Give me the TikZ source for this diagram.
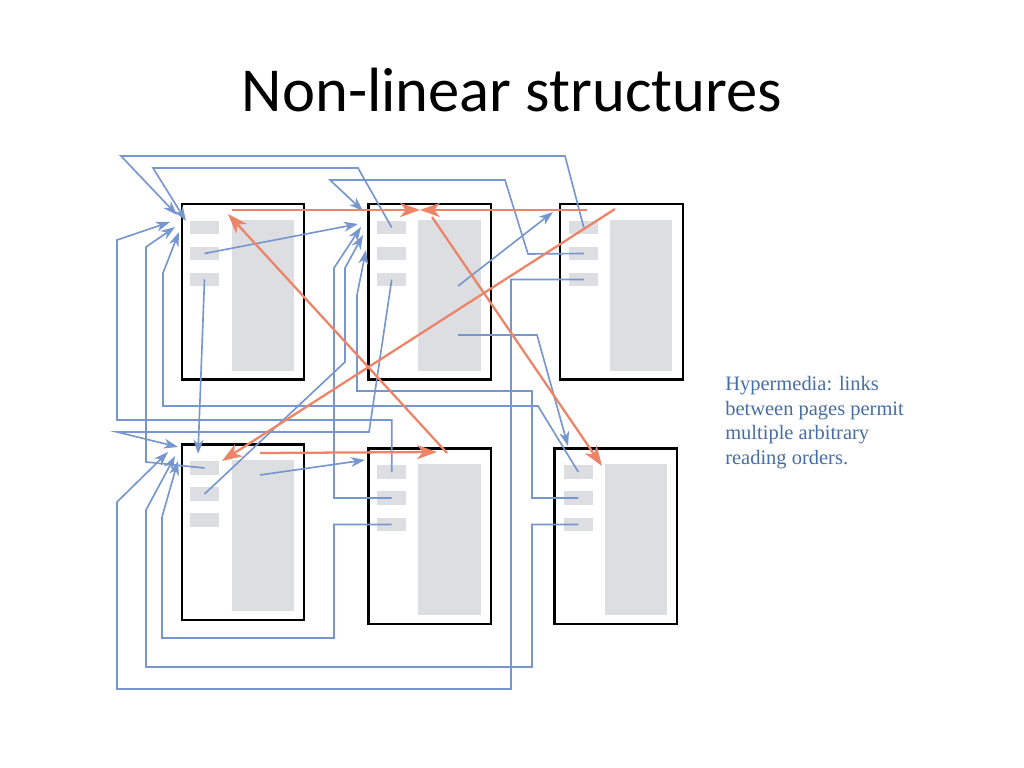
\documentclass[tikz,border=0pt]{standalone}
\usepackage{fontspec}
\usepackage{tikz}
\usetikzlibrary{arrows.meta, positioning, calc}
\setmainfont{Carlito}
\newfontfamily\notefont{Liberation Serif}
\definecolor{linkblue}{RGB}{118, 150, 205}
\definecolor{pathorange}{RGB}{236, 132, 104}
\definecolor{bargray}{RGB}{221, 222, 226}
\definecolor{noteblue}{RGB}{70, 110, 165}

\begin{document}
\begin{tikzpicture}[
    x=0.703125pt, y=-0.703125pt,
    webpage/.style={draw, line width=1.6pt, minimum width=86.2pt, minimum height=123.3pt, inner sep=0pt},
    linkbar/.style={fill=bargray, minimum width=20.6pt, minimum height=9.8pt, inner sep=0pt},
    textpanel/.style={fill=bargray, minimum width=44pt, minimum height=106.2pt, inner sep=0pt},
    hyperlink/.style={-{Stealth[length=10pt, width=7pt, inset=3pt]}, linkblue, line width=1.15pt},
    readpath/.style={-{Stealth[length=14pt, width=10pt, inset=4pt]}, pathorange, line width=1.6pt}
]
    \useasboundingbox (0,0) rectangle (1024,768);

    % Title
    \node[font=\fontsize{44}{53}\selectfont, anchor=base] (title) at (512,112) {Non-linear structures};

    % Pages
    \node[webpage] (p1) at (243,291.7) {};
    \node[webpage] (p2) at (429.7,291.7) {};
    \node[webpage] (p3) at (621.5,291.7) {};
    \node[webpage] (p4) at (243,532.2) {};
    \node[webpage] (p5) at (429.7,536.2) {};
    \node[webpage] (p6) at (615.8,536.2) {};

    % Text panels
    \node[textpanel] (c1) at (263.2,295.3) {};
    \node[textpanel] (c2) at (449.5,295.3) {};
    \node[textpanel] (c3) at (641,295.3) {};
    \node[textpanel] (c4) at (263.2,535.3) {};
    \node[textpanel] (c5) at (449.5,539.7) {};
    \node[textpanel] (c6) at (635.8,539.7) {};

    % Link bars
    \node[linkbar] (p1a) at (204.5,227.5) {};
    \node[linkbar] (p1b) at (204.5,253.5) {};
    \node[linkbar] (p1c) at (204.5,279.5) {};
    \node[linkbar] (p2a) at (391.7,227.5) {};
    \node[linkbar] (p2b) at (391.7,253.5) {};
    \node[linkbar] (p2c) at (391.7,279.5) {};
    \node[linkbar] (p3a) at (583.8,227.5) {};
    \node[linkbar] (p3b) at (583.8,253.5) {};
    \node[linkbar] (p3c) at (583.8,279.5) {};
    \node[linkbar] (p4a) at (204.5,468) {};
    \node[linkbar] (p4b) at (204.5,494) {};
    \node[linkbar] (p4c) at (204.5,520) {};
    \node[linkbar] (p5a) at (391.7,472) {};
    \node[linkbar] (p5b) at (391.7,498) {};
    \node[linkbar] (p5c) at (391.7,524.5) {};
    \node[linkbar] (p6a) at (578.3,472) {};
    \node[linkbar] (p6b) at (578.3,498) {};
    \node[linkbar] (p6c) at (578.3,524.5) {};

    % Link targets
    \coordinate (p1in1) at (177,215);
    \coordinate (p1in2) at (186,221);
    \coordinate (p1in3) at (170,222);
    \coordinate (p1in4) at (175,227);
    \coordinate (p1in5) at (179,232);
    \coordinate (p2in1) at (363,211);
    \coordinate (p2in2) at (358,224);
    \coordinate (p2in3) at (361,227);
    \coordinate (p2in4) at (363,235);
    \coordinate (p2in5) at (366,250);
    \coordinate (p4in1) at (198,454);
    \coordinate (p4in2) at (178,447);
    \coordinate (p4in3) at (168,452);
    \coordinate (p4in4) at (175,456);
    \coordinate (p4in5) at (178,461);
    \coordinate (p3in) at (553,212);
    \coordinate (p5in) at (365,460);
    \coordinate (p6in) at (568,446);
    \coordinate (c2up) at (458,286);
    \coordinate (c2low) at (458,335);
    \coordinate (c4up) at (260,475);

    % Links
    \draw[hyperlink] (p3a.center) -- (565,156) -- (121,156) -- (p1in1);
    \draw[hyperlink] (p2a.center) -- (358,168) -- (153,168) -- (p1in2);
    \draw[hyperlink] (p5a.center) |- (117,420) -- (117,240) -- (p1in3);
    \draw[hyperlink] (p4a.center) -- (146,462) -- (146,247) -- (p1in4);
    \draw[hyperlink] (p6a.center) -- (538,406) -- (163,406) -- (163,273) -- (p1in5);
    \draw[hyperlink] (p3b.center) -- (528,254) -- (505,180) -- (330,180) -- (p2in1);
    \draw[hyperlink] (p1b.center) -- (p2in2);
    \draw[hyperlink] (p5b.center) -| (334,268) -- (p2in3);
    \draw[hyperlink] (p4b.center) -- (345,362) -- (345,268) -- (p2in4);
    \draw[hyperlink] (p6b.center) -| (532,391) -| (357,295) -- (p2in5);
    \draw[hyperlink] (p1c.center) -- (p4in1);
    \draw[hyperlink] (p2c.center) -- (369,432) -- (117,432) -- (p4in2);
    \draw[hyperlink] (p3c.center) -| (511,689) -| (117,502) -- (p4in3);
    \draw[hyperlink] (p6c.center) -| (532,667) -| (146,510) -- (p4in4);
    \draw[hyperlink] (p5c.center) -| (334,638) -| (162,517) -- (p4in5);
    \draw[hyperlink] (c2up) -- (p3in);
    \draw[hyperlink] (c2low) -- (537,335) -- (p6in);
    \draw[hyperlink] (c4up) -- (p5in);

    % Reading orders
    \coordinate (r1) at (232,210);
    \coordinate (r3) at (587,210);
    \coordinate (meet) at (420,210);
    \coordinate (r5) at (447,453);
    \coordinate (r1in) at (228,214);
    \coordinate (r2) at (432,217);
    \coordinate (r6in) at (602,466);
    \coordinate (r3b) at (615,209);
    \coordinate (r4in) at (222,461);
    \coordinate (r4) at (260,453);
    \coordinate (r5in) at (437,452);
    \draw[readpath] (r1) -- (meet);
    \draw[readpath] (r3) -- (meet);
    \draw[readpath] (r5) -- (r1in);
    \draw[readpath] (r2) -- (r6in);
    \draw[readpath] (r3b) -- (r4in);
    \draw[readpath] (r4) -- (r5in);

    % Caption
    \node[anchor=base west, align=left, inner sep=0pt, text=noteblue,
          font=\notefont\fontsize{14.4}{17.4}\selectfont] (note) at (725,464.5)
          {Hypermedia: links\\between pages permit\\multiple arbitrary\\reading orders.};
\end{tikzpicture}
\end{document}
